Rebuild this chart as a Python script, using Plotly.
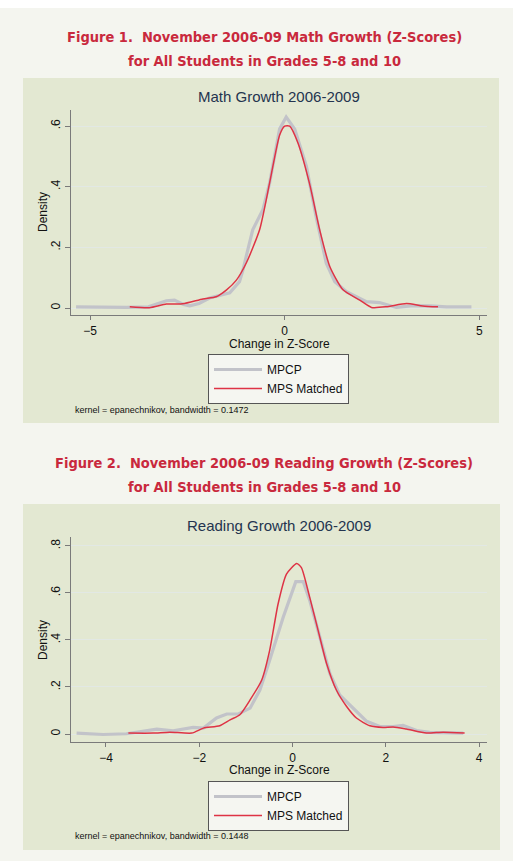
import plotly.graph_objects as go

# ---------------- data ----------------
math_mpcp_x = [-5.36, -4.6, -4.07, -3.5, -3.04, -2.83, -2.6, -2.44, -2.2, -1.93, -1.41, -1.16,
               -1.07, -0.95, -0.82, -0.56, -0.39, -0.13, 0.04, 0.26, 0.56, 0.81, 1.07, 1.29, 1.59,
               2.1, 2.44, 2.87, 3.3, 3.73, 4.16, 4.8]
math_mpcp_y = [0.004, 0.003, 0.002, 0.004, 0.024, 0.026, 0.012, 0.007, 0.015, 0.033, 0.05, 0.087,
               0.126, 0.19, 0.258, 0.324, 0.41, 0.59, 0.63, 0.59, 0.467, 0.30, 0.148, 0.087, 0.054,
               0.021, 0.018, 0.002, 0.008, 0.007, 0.004, 0.004]
math_mps_x = [-3.98, -3.47, -3.04, -2.62, -2.1, -1.76, -1.5, -1.24, -0.98, -0.64, -0.39, -0.13,
              0.0, 0.13, 0.34, 0.64, 0.9, 1.16, 1.5, 1.93, 2.23, 2.61, 3.13, 3.55, 3.94]
math_mps_y = [0.004, 0.001, 0.013, 0.014, 0.03, 0.037, 0.059, 0.092, 0.15, 0.26, 0.41, 0.57,
              0.60, 0.60, 0.545, 0.41, 0.258, 0.137, 0.06, 0.026, 0.002, 0.004, 0.015, 0.007, 0.004]

read_mpcp_x = [-4.63, -4.06, -3.56, -2.91, -2.56, -2.13, -1.91, -1.63, -1.41, -1.16, -0.91, -0.7,
               -0.49, -0.2, 0.07, 0.23, 0.37, 0.59, 0.8, 1.01, 1.3, 1.59, 1.87, 2.16, 2.37,
               2.66, 2.94, 3.37, 3.66]
read_mpcp_y = [0.004, -0.002, 0.001, 0.021, 0.014, 0.028, 0.025, 0.068, 0.085, 0.085, 0.11, 0.187,
               0.314, 0.497, 0.648, 0.648, 0.568, 0.413, 0.258, 0.166, 0.11, 0.054, 0.032, 0.032, 0.037,
               0.015, 0.007, 0.007, 0.004]
read_mps_x = [-3.52, -2.99, -2.63, -2.16, -1.91, -1.56, -1.34, -1.13, -0.91, -0.66, -0.49, -0.31,
              -0.13, 0.09, 0.19, 0.37, 0.55, 0.73, 0.94, 1.16, 1.37, 1.66, 1.94, 2.16, 2.44,
              2.87, 3.23, 3.69]
read_mps_y = [0.004, 0.004, 0.008, 0.004, 0.025, 0.035, 0.06, 0.082, 0.145, 0.23, 0.356, 0.553,
              0.68, 0.725, 0.708, 0.58, 0.44, 0.30, 0.187, 0.117, 0.068, 0.035, 0.028, 0.03, 0.021,
              0.004, 0.008, 0.004]

series_names = ["MPCP", "MPS Matched"]
math_xticks = [-5, 0, 5]
read_xticks = [-4, -2, 0, 2, 4]
math_yticks = [0, 0.2, 0.4, 0.6]
math_yticklabels = ["0", ".2", ".4", ".6"]
read_yticks = [0, 0.2, 0.4, 0.6, 0.8]
read_yticklabels = ["0", ".2", ".4", ".6", ".8"]

fig_titles = [["Figure 1.  November 2006-09 Math Growth (Z-Scores)", "for All Students in Grades 5-8 and 10"],
              ["Figure 2.  November 2006-09 Reading Growth (Z-Scores)", "for All Students in Grades 5-8 and 10"]]
sub_titles = ["Math Growth 2006-2009", "Reading Growth 2006-2009"]
notes = ["kernel = epanechnikov, bandwidth = 0.1472", "kernel = epanechnikov, bandwidth = 0.1448"]

# ---------------- styling ----------------
W, H = 513, 861
PAGE = "#f4f5ef"
PANEL = "#e3e8d2"
PLOTBG = "#f5f6f1"
GRID = "#e2e8e4"
AXIS = "#7a7a7a"
GRAY = "#c2c3c9"
RED = "#de3345"
TITLE_RED = "#c9293d"
NAVY = "#24344f"
SANS = "Liberation Sans, Arial, sans-serif"
NARROW = "Liberation Sans Narrow, DejaVu Sans Condensed, Arial Narrow, sans-serif"


def px(x):
    return x / W


def py(y):
    return 1 - y / H


fig = go.Figure()

fig.add_trace(go.Scatter(x=math_mpcp_x, y=math_mpcp_y, name=series_names[0], mode="lines",
                         line=dict(color=GRAY, width=3.2), xaxis="x", yaxis="y", legend="legend"))
fig.add_trace(go.Scatter(x=math_mps_x, y=math_mps_y, name=series_names[1], mode="lines",
                         line=dict(color=RED, width=1.5, shape="spline", smoothing=0.6),
                         xaxis="x", yaxis="y", legend="legend"))
fig.add_trace(go.Scatter(x=read_mpcp_x, y=read_mpcp_y, name=series_names[0], mode="lines",
                         line=dict(color=GRAY, width=3.2), xaxis="x2", yaxis="y2", legend="legend2"))
fig.add_trace(go.Scatter(x=read_mps_x, y=read_mps_y, name=series_names[1], mode="lines",
                         line=dict(color=RED, width=1.5, shape="spline", smoothing=0.6),
                         xaxis="x2", yaxis="y2", legend="legend2"))

xdom = [px(71), px(487)]
common_x = dict(showgrid=False, zeroline=False, showline=True, linecolor=AXIS, linewidth=1.2,
                ticks="outside", ticklen=4, tickcolor=AXIS, tickfont=dict(family=SANS, size=12, color="#111"),
                mirror=False)
common_y = dict(showgrid=True, gridcolor=GRID, gridwidth=1, zeroline=False, showline=True,
                linecolor=AXIS, linewidth=1.2, ticks="outside", ticklen=5, tickcolor=AXIS,
                tickangle=-90, tickfont=dict(family=SANS, size=12, color="#111"))

legend_common = dict(bgcolor=PLOTBG, bordercolor="#555", borderwidth=1,
                     font=dict(family=SANS, size=12, color="#111"), itemwidth=48,
                     xanchor="left", yanchor="top", tracegroupgap=0, itemclick=False)

fig.update_layout(
    width=W, height=H, margin=dict(l=0, r=0, t=0, b=0),
    paper_bgcolor=PAGE, plot_bgcolor=PLOTBG, showlegend=True,
    xaxis=dict(domain=xdom, range=[-5.49, 5.2], tickvals=math_xticks, anchor="y", **common_x),
    yaxis=dict(domain=[py(315), py(110)], range=[-0.023, 0.653], tickvals=math_yticks,
               ticktext=math_yticklabels, anchor="x", **common_y),
    xaxis2=dict(domain=xdom, range=[-4.75, 4.17], tickvals=read_xticks, anchor="y2", **common_x),
    yaxis2=dict(domain=[py(742), py(537)], range=[-0.034, 0.838], tickvals=read_yticks,
                ticktext=read_yticklabels, anchor="x2", **common_y),
    legend=dict(x=px(208), y=py(354), **legend_common),
    legend2=dict(x=px(208), y=py(781), **legend_common),
)

# panels
shapes = [
    dict(type="rect", xref="paper", yref="paper", x0=0, x1=1, y0=py(8), y1=1,
         fillcolor="white", line=dict(width=0), layer="below"),
    dict(type="rect", xref="paper", yref="paper", x0=px(23), x1=px(499), y0=py(423), y1=py(78),
         fillcolor=PANEL, line=dict(width=0), layer="below"),
    dict(type="rect", xref="paper", yref="paper", x0=px(23), x1=px(500), y0=py(850), y1=py(504),
         fillcolor=PANEL, line=dict(width=0), layer="below"),
]
fig.update_layout(shapes=shapes)

ann = []
for i, (t1, t2, sy, xy, dy, ny) in enumerate([(37, 61, 97, 344, 212, 410),
                                               (463, 487, 525, 770, 640, 836)]):
    for line_txt, ly in zip(fig_titles[i], (t1, t2)):
        ann.append(dict(text="<b>" + line_txt + "</b>", x=px(264), y=py(ly), xref="paper", yref="paper",
                        xanchor="center", yanchor="middle", showarrow=False,
                        font=dict(family=NARROW, size=14.5, color=TITLE_RED)))
    ann.append(dict(text=sub_titles[i], x=px(279), y=py(sy), xref="paper", yref="paper",
                    xanchor="center", yanchor="middle", showarrow=False,
                    font=dict(family=SANS, size=15, color=NAVY)))
    ann.append(dict(text="Change in Z-Score", x=px(279), y=py(xy), xref="paper", yref="paper",
                    xanchor="center", yanchor="middle", showarrow=False,
                    font=dict(family=SANS, size=12, color="#111")))
    ann.append(dict(text="Density", x=px(43), y=py(dy), xref="paper", yref="paper",
                    xanchor="center", yanchor="middle", showarrow=False, textangle=-90,
                    font=dict(family=SANS, size=12, color="#111")))
    ann.append(dict(text=notes[i], x=px(73), y=py(ny), xref="paper", yref="paper",
                    xanchor="left", yanchor="middle", showarrow=False,
                    font=dict(family=SANS, size=9, color="#111")))
fig.update_layout(annotations=ann)

fig.write_html("out.html", config={"displayModeBar": False},
               post_script="document.body.style.margin='0';document.body.style.overflow='hidden';")
